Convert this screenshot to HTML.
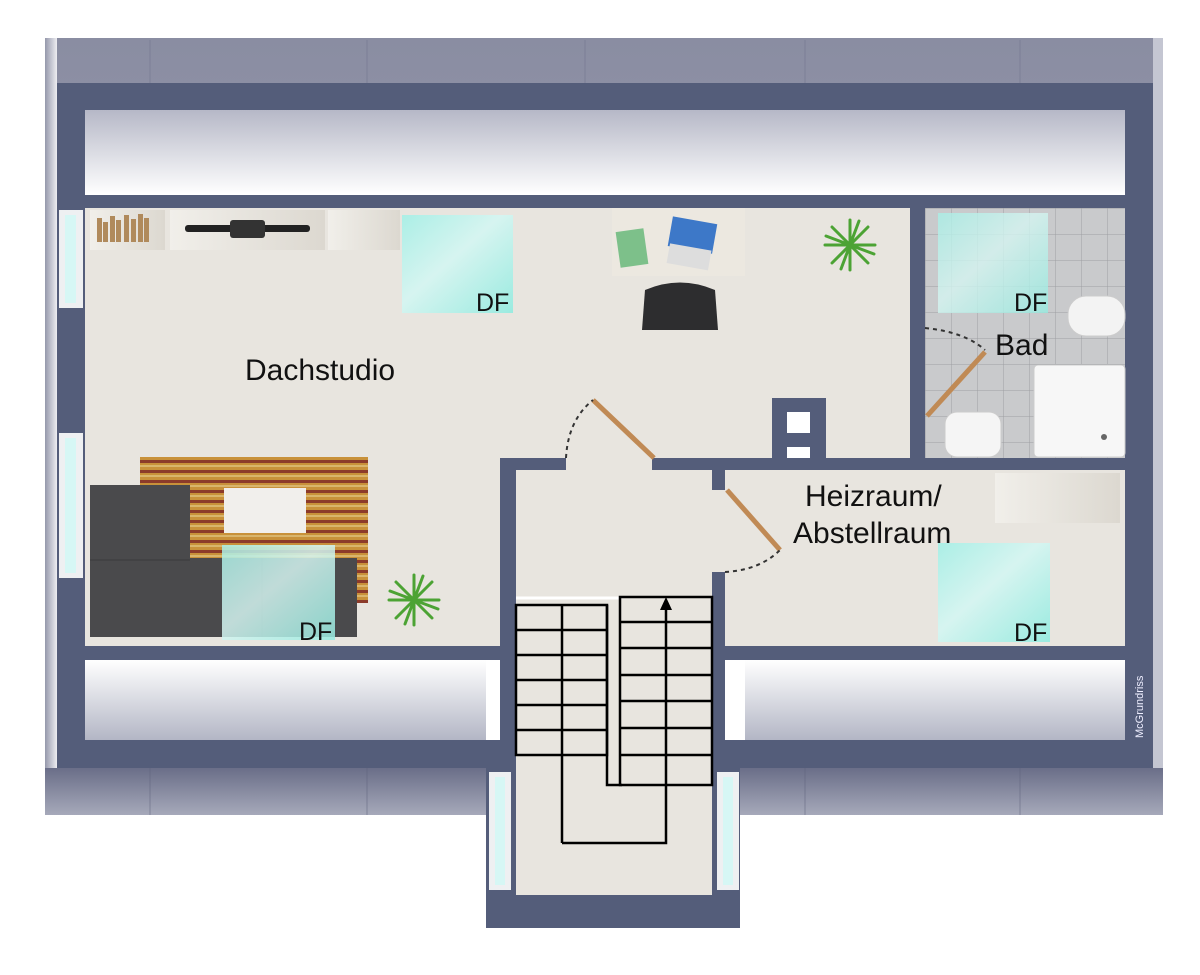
<!DOCTYPE html>
<html><head><meta charset="utf-8"><style>
html,body{margin:0;padding:0;background:#fff;width:1200px;height:975px;overflow:hidden}
svg{display:block}
text{font-family:"Liberation Sans",Arial,sans-serif;fill:#111}
</style></head><body>
<svg width="1200" height="975" viewBox="0 0 1200 975" xmlns="http://www.w3.org/2000/svg">
<defs>
<linearGradient id="roofT" x1="0" y1="0" x2="0" y2="1">
<stop offset="0" stop-color="#8a8da2"/><stop offset="1" stop-color="#a9acbd"/></linearGradient>
<linearGradient id="roofIn" x1="0" y1="0" x2="0" y2="1">
<stop offset="0" stop-color="#b6b8c7"/><stop offset="1" stop-color="#ffffff"/></linearGradient>
<linearGradient id="roofInB" x1="0" y1="0" x2="0" y2="1">
<stop offset="0" stop-color="#ffffff"/><stop offset="1" stop-color="#b3b6c5"/></linearGradient>
<linearGradient id="roofB" x1="0" y1="0" x2="0" y2="1">
<stop offset="0" stop-color="#6a6e88"/><stop offset="1" stop-color="#a6a9ba"/></linearGradient>
<linearGradient id="roofL" x1="0" y1="0" x2="1" y2="0">
<stop offset="0" stop-color="#9598ab"/><stop offset="1" stop-color="#eeeef2"/></linearGradient>
<linearGradient id="glass" x1="0" y1="0" x2="1" y2="1">
<stop offset="0" stop-color="#a8efe6"/><stop offset="0.45" stop-color="#d5f5f1"/><stop offset="1" stop-color="#96ebe0"/></linearGradient>
<linearGradient id="shelf" x1="0" y1="0" x2="1" y2="0">
<stop offset="0" stop-color="#f1efea"/><stop offset="1" stop-color="#dcd8d0"/></linearGradient>
<pattern id="tiles" width="26" height="26" patternUnits="userSpaceOnUse" x="925" y="208">
<rect width="26" height="26" fill="#c9cacc"/><path d="M0 0H26M0 0V26" stroke="#9ea0a3" stroke-width="1"/></pattern>
<pattern id="stripes" width="10" height="10" patternUnits="userSpaceOnUse">
<rect width="10" height="10" fill="#c8913a"/><rect y="0" width="10" height="3" fill="#8c3b2a"/><rect y="5" width="10" height="2" fill="#d9b56c"/></pattern>
</defs>

<rect x="45" y="38" width="1118" height="777" fill="url(#roofT)"/>
<rect x="45" y="38" width="12" height="777" fill="url(#roofL)"/>
<rect x="1153" y="38" width="10" height="777" fill="#c4c6d2"/>
<g stroke="#6e728c" stroke-width="1" opacity="0.5">
<line x1="150" y1="40" x2="150" y2="195"/><line x1="367" y1="40" x2="367" y2="195"/><line x1="585" y1="40" x2="585" y2="195"/><line x1="805" y1="40" x2="805" y2="195"/><line x1="1020" y1="40" x2="1020" y2="195"/>
</g>
<rect x="45" y="768" width="441" height="47" fill="url(#roofB)"/>
<rect x="740" y="768" width="423" height="47" fill="url(#roofB)"/>
<g stroke="#5e627c" stroke-width="1" opacity="0.5">
<line x1="150" y1="768" x2="150" y2="815"/><line x1="367" y1="768" x2="367" y2="815"/><line x1="805" y1="768" x2="805" y2="815"/><line x1="1020" y1="768" x2="1020" y2="815"/>
</g>
<rect x="486" y="768" width="254" height="47" fill="#fff"/>

<rect x="57" y="83" width="1096" height="685" fill="#545d7a"/>
<rect x="85" y="110" width="1040" height="85" fill="url(#roofIn)"/>
<rect x="85" y="660" width="415" height="80" fill="url(#roofInB)"/>
<rect x="486" y="660" width="14" height="80" fill="#fff"/>
<rect x="725" y="660" width="400" height="80" fill="url(#roofInB)"/>
<rect x="725" y="660" width="20" height="80" fill="#fff"/>

<rect x="85" y="208" width="825" height="440" fill="#e8e5df"/>
<rect x="925" y="208" width="200" height="250" fill="url(#tiles)"/>
<rect x="725" y="470" width="400" height="176" fill="#e8e5df"/>
<rect x="516" y="470" width="196" height="425" fill="#e8e5df"/>

<rect x="500" y="458" width="66" height="12" fill="#545d7a"/>
<rect x="652" y="458" width="473" height="12" fill="#545d7a"/>
<rect x="500" y="458" width="16" height="310" fill="#545d7a"/>
<rect x="85" y="646" width="415" height="14" fill="#545d7a"/>
<rect x="712" y="470" width="13" height="20" fill="#545d7a"/>
<rect x="712" y="572" width="13" height="196" fill="#545d7a"/>
<rect x="725" y="646" width="400" height="14" fill="#545d7a"/>
<rect x="910" y="208" width="15" height="120" fill="#545d7a"/>
<rect x="910" y="414" width="15" height="44" fill="#545d7a"/>
<rect x="772" y="398" width="54" height="60" fill="#545d7a"/>
<rect x="787" y="412" width="23" height="21" fill="#fff"/>
<rect x="787" y="447" width="23" height="11" fill="#fff"/>
<rect x="1127" y="660" width="24" height="80" fill="#545d7a"/>
<text x="0" y="0" font-size="11" style="fill:#eef" transform="translate(1143,738) rotate(-90)">McGrundriss</text>

<rect x="486" y="768" width="30" height="127" fill="#545d7a"/>
<rect x="712" y="768" width="28" height="127" fill="#545d7a"/>
<rect x="486" y="895" width="254" height="33" fill="#545d7a"/>
<rect x="516" y="768" width="196" height="127" fill="#e8e5df"/>
<rect x="489" y="772" width="22" height="118" fill="#eef0f2"/><rect x="495" y="777" width="10" height="108" fill="#d6f7f5"/>
<rect x="717" y="772" width="22" height="118" fill="#eef0f2"/><rect x="723" y="777" width="10" height="108" fill="#d6f7f5"/>
<rect x="59" y="210" width="24" height="98" fill="#eef0f2"/><rect x="65" y="215" width="11" height="88" fill="#d6f7f5"/>
<rect x="59" y="433" width="24" height="145" fill="#eef0f2"/><rect x="65" y="438" width="11" height="135" fill="#d6f7f5"/>

<g fill="none" stroke="#000" stroke-width="2.5">
<line x1="516" y1="598" x2="620" y2="598" stroke="#fff" stroke-width="3"/>
<rect x="516" y="605" width="91" height="150"/>
<line x1="562" y1="605" x2="562" y2="843"/>
<line x1="516" y1="630" x2="607" y2="630"/><line x1="516" y1="655" x2="607" y2="655"/><line x1="516" y1="680" x2="607" y2="680"/><line x1="516" y1="705" x2="607" y2="705"/><line x1="516" y1="730" x2="607" y2="730"/>
<polyline points="607,605 607,785 622,785"/>
<rect x="620" y="597" width="92" height="188"/>
<line x1="620" y1="622" x2="712" y2="622"/><line x1="620" y1="648" x2="712" y2="648"/><line x1="620" y1="675" x2="712" y2="675"/><line x1="620" y1="701" x2="712" y2="701"/><line x1="620" y1="728" x2="712" y2="728"/><line x1="620" y1="755" x2="712" y2="755"/>
<polyline points="562,843 666,843 666,605"/>
</g>
<polygon points="666,597 660,610 672,610" fill="#000"/>

<line x1="593" y1="400" x2="654" y2="458" stroke="#c08a55" stroke-width="5"/>
<path d="M566 458 Q568 420 593 400" fill="none" stroke="#333" stroke-width="2" stroke-dasharray="4,4"/>
<line x1="727" y1="490" x2="780" y2="550" stroke="#c08a55" stroke-width="5"/>
<path d="M725 572 Q760 570 780 550" fill="none" stroke="#333" stroke-width="2" stroke-dasharray="4,4"/>
<line x1="927" y1="416" x2="985" y2="352" stroke="#c08a55" stroke-width="5"/>
<path d="M925 328 Q965 332 985 350" fill="none" stroke="#333" stroke-width="2" stroke-dasharray="4,4"/>

<rect x="90" y="210" width="75" height="40" fill="url(#shelf)"/>
<g fill="#b08a5c"><rect x="97" y="218" width="5" height="24"/><rect x="103" y="222" width="5" height="20"/><rect x="110" y="216" width="5" height="26"/><rect x="116" y="220" width="5" height="22"/><rect x="124" y="215" width="5" height="27"/><rect x="131" y="219" width="5" height="23"/><rect x="138" y="214" width="5" height="28"/><rect x="144" y="218" width="5" height="24"/></g>
<rect x="170" y="210" width="155" height="40" fill="url(#shelf)"/>
<rect x="185" y="225" width="125" height="7" rx="3" fill="#222"/><rect x="230" y="220" width="35" height="18" rx="3" fill="#333"/>
<rect x="328" y="210" width="72" height="40" fill="url(#shelf)"/>
<rect x="612" y="208" width="133" height="68" fill="#ece8e0"/>
<rect x="618" y="230" width="28" height="36" fill="#7dc08a" transform="rotate(-8 632 248)"/>
<rect x="670" y="220" width="45" height="30" fill="#3d78c8" transform="rotate(10 692 235)"/>
<rect x="668" y="247" width="42" height="20" fill="#ddd" transform="rotate(10 690 257)"/>
<path d="M645 290 Q680 275 715 290 L718 330 L642 330 Z" fill="#2d2d2f"/>

<rect x="140" y="457" width="228" height="146" fill="url(#stripes)"/>
<rect x="224" y="488" width="82" height="45" fill="#f1efec"/>
<rect x="90" y="485" width="100" height="152" fill="#4a4a4c"/>
<rect x="190" y="558" width="167" height="79" fill="#4a4a4c"/>
<line x1="90" y1="560" x2="190" y2="560" stroke="#3a3a3c"/>
<line x1="262" y1="558" x2="262" y2="637" stroke="#3a3a3c"/>

<g stroke="#4ca334" stroke-width="3" stroke-linecap="round">
<g transform="translate(850,245)"><line x1="-25" y1="0" x2="25" y2="0"/><line x1="0" y1="-25" x2="0" y2="25"/><line x1="-18" y1="-18" x2="18" y2="18"/><line x1="-18" y1="18" x2="18" y2="-18"/><line x1="-24" y1="-9" x2="24" y2="9"/><line x1="-9" y1="24" x2="9" y2="-24"/></g>
<g transform="translate(414,600)"><line x1="-25" y1="0" x2="25" y2="0"/><line x1="0" y1="-25" x2="0" y2="25"/><line x1="-18" y1="-18" x2="18" y2="18"/><line x1="-18" y1="18" x2="18" y2="-18"/><line x1="-24" y1="-9" x2="24" y2="9"/><line x1="-9" y1="24" x2="9" y2="-24"/></g>
</g>

<rect x="1068" y="296" width="57" height="40" rx="18" fill="#f3f3f3" stroke="#ccc"/>
<rect x="1034" y="365" width="91" height="92" rx="4" fill="#f7f7f7" stroke="#ccc"/>
<circle cx="1104" cy="437" r="3" fill="#666"/>
<rect x="945" y="412" width="56" height="45" rx="12" fill="#f5f5f5" stroke="#ccc"/>
<rect x="995" y="473" width="125" height="50" fill="url(#shelf)"/>

<rect x="402" y="215" width="111" height="98" fill="url(#glass)" opacity="0.95"/>
<rect x="938" y="213" width="110" height="100" fill="url(#glass)" opacity="0.8"/>
<rect x="222" y="545" width="113" height="95" fill="url(#glass)" opacity="0.85"/>
<rect x="938" y="543" width="112" height="99" fill="url(#glass)" opacity="0.95"/>

<text x="245" y="380" font-size="30">Dachstudio</text>
<text x="476" y="311" font-size="25">DF</text>
<text x="1014" y="311" font-size="25">DF</text>
<text x="299" y="640" font-size="25">DF</text>
<text x="1014" y="641" font-size="25">DF</text>
<text x="995" y="355" font-size="30">Bad</text>
<text x="805" y="506" font-size="30">Heizraum/</text>
<text x="793" y="543" font-size="30">Abstellraum</text>
</svg>
</body></html>
